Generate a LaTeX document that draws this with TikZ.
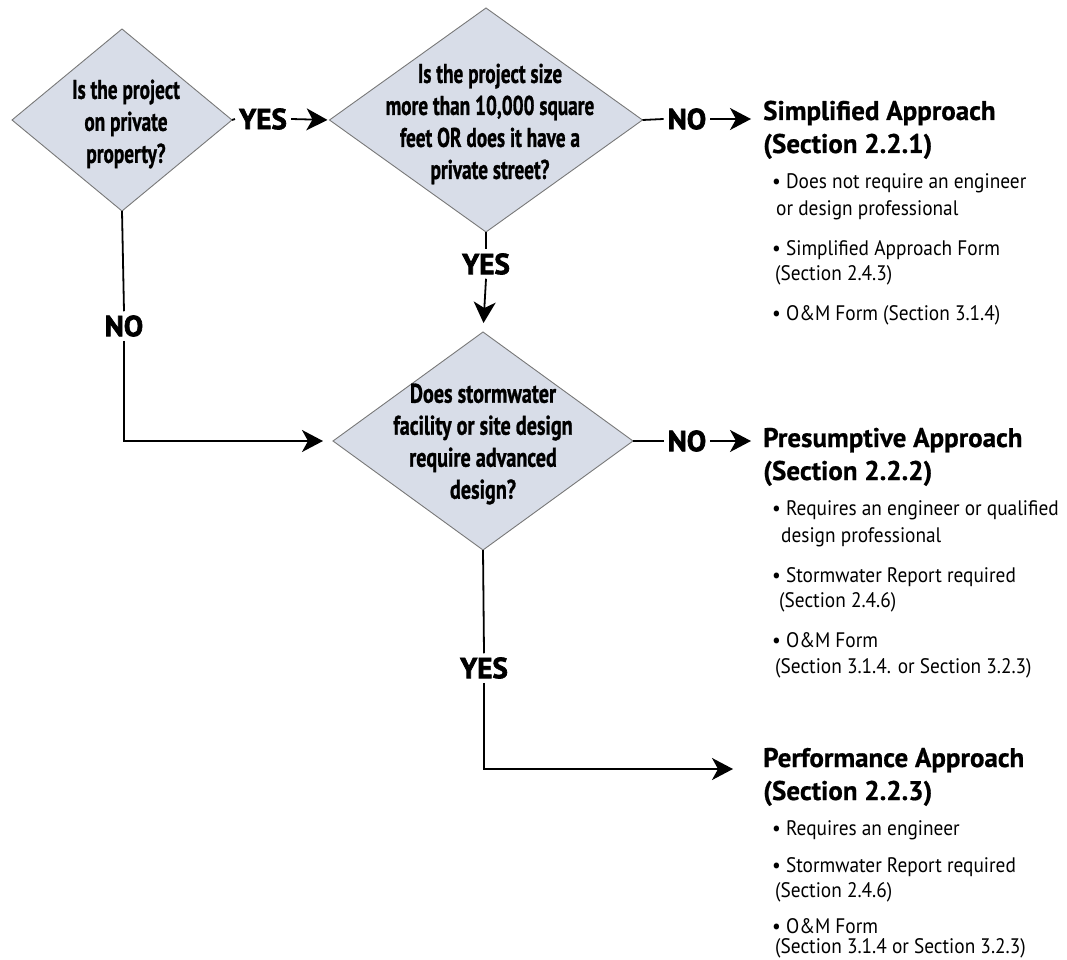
\documentclass[tikz,border=0pt]{standalone}
\usepackage{fontspec}
\setmainfont{PT Sans}
\newfontfamily\condbf[FakeBold=1.2]{PT Sans}
\newfontfamily\heavyf[FakeBold=2.4]{PT Sans}
\newfontfamily\headf[FakeBold=0.7]{PT Sans}
\newfontfamily\itemf[FakeStretch=0.92]{PT Sans}
\usetikzlibrary{shapes.geometric,arrows.meta}
\definecolor{diafill}{RGB}{216,221,232}
\definecolor{diadraw}{RGB}{120,120,120}
\begin{document}
\begin{tikzpicture}[x=1pt,y=-1pt,
  dia/.style={diamond, draw=diadraw, fill=diafill, line width=0.9pt, inner sep=0pt, outer sep=0pt},
  qtext/.style={font=\condbf\bfseries\fontsize{27}{32}\selectfont, align=center, inner sep=0pt, transform shape},
  lab/.style={font=\heavyf\bfseries\fontsize{29}{30}\selectfont, inner sep=4pt},
  conn/.style={line width=1.8pt, black},
  arr/.style={conn, -{Stealth[length=21pt,width=22pt,inset=6pt]}},
  head/.style={font=\headf\bfseries\fontsize{27}{30}\selectfont, anchor=base west, inner sep=0pt},
  item/.style={font=\itemf\fontsize{21}{24}\selectfont, anchor=base west, inner sep=0pt}]
\useasboundingbox (0,0) rectangle (1067,960);

% diamonds
\node[dia, minimum width=220pt, minimum height=182pt] (d1) at (122,120) {};
\node[dia, minimum width=313pt, minimum height=224pt] (d2) at (486,120) {};
\node[dia, minimum width=300pt, minimum height=218pt] (d3) at (483,441) {};

\begin{scope}[shift={(126,124)}, xscale=0.713]
\node[qtext] (q1) at (0,0) {Is the project\\on private\\property?};
\end{scope}
\begin{scope}[shift={(490,124)}, xscale=0.713]
\node[qtext] (q2) at (0,0) {Is the project size\\more than 10,000 square\\feet OR does it have a\\private street?};
\end{scope}
\begin{scope}[shift={(483,444)}, xscale=0.747]
\node[qtext] (q3) at (0,0) {Does stormwater\\facility or site design\\require advanced\\design?};
\end{scope}

% labels
\node[lab] (y1) at (263,119) {YES};
\node[lab] (n1) at (687,119) {NO};
\node[lab] (y2) at (486,264) {YES};
\node[lab] (n2) at (124,326) {NO};
\node[lab] (n3) at (687,441) {NO};
\node[lab] (y3) at (484,668) {YES};

% arrow end points
\coordinate (e1) at (751,119);
\coordinate (e2) at (751,441);
\coordinate (e3) at (733,769);

% connectors
\draw[conn] (d1.east) -- (y1.west);
\draw[arr, shorten >=2pt] (y1.east) -- (d2.west);
\draw[conn] (d2.east) -- (n1.west);
\draw[arr] (n1.east) -- (e1);
\draw[conn] (d2.south) -- (y2.north);
\draw[arr, shorten >=9pt] (y2.south) -- (d3.north);
\draw[conn] (d1.south) -- (n2.north);
\draw[arr, shorten >=10pt] (n2.south) |- (d3.west);
\draw[conn] (d3.east) -- (n3.west);
\draw[arr] (n3.east) -- (e2);
\draw[conn] (d3.south) -- (y3.north);
\draw[arr] (y3.south) |- (e3);

% Simplified
\node[head] (h1a) at (763,120) {Simplified Approach};
\node[head] (h1b) at (763,153) {(Section 2.2.1)};
\node[item] (s1) at (772,188) {\textbullet\ Does not require an engineer};
\node[item] (s2) at (776,215) {or design professional};
\node[item] (s3) at (772,255) {\textbullet\ Simplified Approach Form};
\node[item] (s4) at (775,280) {(Section 2.4.3)};
\node[item] (s5) at (772,320) {\textbullet\ O\&M Form (Section 3.1.4)};

% Presumptive
\node[head] (h2a) at (763,447) {Presumptive Approach};
\node[head] (h2b) at (763,480) {(Section 2.2.2)};
\node[item] (p1) at (772,515) {\textbullet\ Requires an engineer or qualified};
\node[item] (p2) at (781,542) {design professional};
\node[item] (p3) at (772,582) {\textbullet\ Stormwater Report required};
\node[item] (p4) at (779,607) {(Section 2.4.6)};
\node[item] (p5) at (772,647) {\textbullet\ O\&M Form};
\node[item] (p6) at (775,673) {(Section 3.1.4. or Section 3.2.3)};

% Performance
\node[head] (h3a) at (763,767) {Performance Approach};
\node[head] (h3b) at (763,800) {(Section 2.2.3)};
\node[item] (f1) at (772,835) {\textbullet\ Requires an engineer};
\node[item] (f2) at (772,872) {\textbullet\ Stormwater Report required};
\node[item] (f3) at (775,897) {(Section 2.4.6)};
\node[item] (f4) at (772,933) {\textbullet\ O\&M Form};
\node[item] (f5) at (775,953) {(Section 3.1.4 or Section 3.2.3)};
\end{tikzpicture}
\end{document}
